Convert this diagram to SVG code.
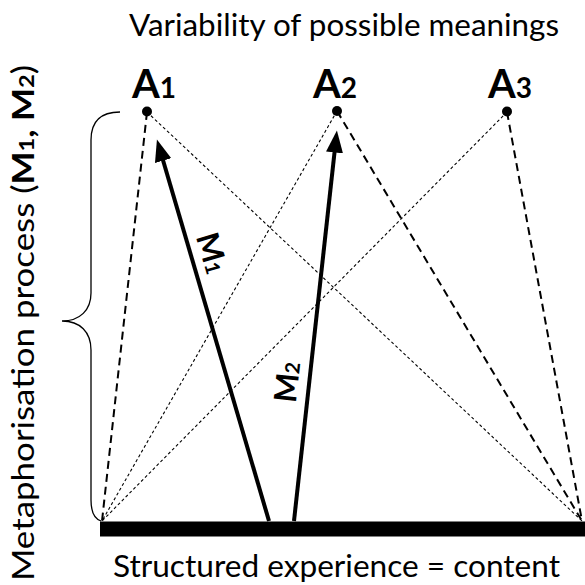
<svg xmlns="http://www.w3.org/2000/svg" width="585" height="585" viewBox="0 0 585 585">
<style>
  .t { font-family: Lato, "Liberation Sans", sans-serif; fill: #000; }
  .lbl { font-family: Lato, "Liberation Sans", sans-serif; font-weight: bold; fill: #000; }
  .heavy { stroke: #000; stroke-width: 2; stroke-dasharray: 8 5; fill: none; }
  .thin { stroke: #000; stroke-width: 1.1; stroke-dasharray: 3 2.5; fill: none; }
  .arrow { stroke: #000; stroke-width: 4; fill: none; marker-end: url(#head); }
  .dot { fill: #000; }
</style>
<defs>
  <marker id="head" markerUnits="userSpaceOnUse" markerWidth="24" markerHeight="18" refX="9" refY="8.5" orient="auto">
    <path d="M0,0 L22,8.5 L0,17 z" fill="#000"/>
  </marker>
</defs>
<rect width="585" height="585" fill="#fff"/>

<text class="t" x="344" y="36" font-size="31" text-anchor="middle" textLength="430" lengthAdjust="spacingAndGlyphs">Variability of possible meanings</text>
<text class="t" x="336.5" y="577" font-size="31" text-anchor="middle" textLength="447" lengthAdjust="spacingAndGlyphs">Structured experience = content</text>
<text class="t" transform="translate(34,323) rotate(-90)" x="0" y="0" font-size="31" text-anchor="middle" textLength="516" lengthAdjust="spacingAndGlyphs">Metaphorisation process (<tspan font-weight="bold">M</tspan><tspan font-weight="bold" font-size="21">1</tspan><tspan font-weight="bold">, M</tspan><tspan font-weight="bold" font-size="21">2</tspan>)</text>

<g id="connectors">
  <line class="heavy" x1="147" y1="112" x2="102" y2="521"/>
  <line class="thin" x1="147" y1="112" x2="582" y2="521"/>
  <line class="thin" x1="337" y1="111" x2="102" y2="521"/>
  <line class="heavy" x1="337" y1="111" x2="582" y2="521"/>
  <line class="thin" x1="507" y1="112" x2="102" y2="521"/>
  <line class="heavy" x1="507" y1="112" x2="582" y2="521"/>
  <line class="arrow" x1="269" y1="521" x2="160.6" y2="152"/>
  <line class="arrow" x1="294" y1="521" x2="335.5" y2="143.5"/>
  <path d="M120,112 C100,112 91,122 91,140 L91,293 C91,310 80,321 62,321 C80,321 91,332 91,350 L91,500 C91,512 95,519 101,521" fill="none" stroke="#000" stroke-width="1.3"/>
</g>

<g id="A1">
  <circle class="dot" cx="147" cy="111.5" r="5"/>
  <text class="lbl" x="132" y="98" font-size="40">A<tspan font-size="28">1</tspan></text>
</g>
<g id="A2">
  <circle class="dot" cx="337" cy="111" r="5"/>
  <text class="lbl" x="313" y="98" font-size="40">A<tspan font-size="28">2</tspan></text>
</g>
<g id="A3">
  <circle class="dot" cx="507" cy="111.5" r="5"/>
  <text class="lbl" x="488" y="98" font-size="40">A<tspan font-size="28">3</tspan></text>
</g>

<g id="content">
  <rect x="100" y="521.5" width="485" height="15" fill="#000"/>
</g>

<g id="M1label">
  <text class="lbl" transform="translate(212,253) rotate(73.7)" x="0" y="11" font-size="31" text-anchor="middle">M<tspan font-size="20">1</tspan></text>
</g>
<g id="M2label">
  <text class="lbl" transform="translate(287,382) rotate(-83.8)" x="0" y="11" font-size="31" text-anchor="middle">M<tspan font-size="20">2</tspan></text>
</g>
</svg>
